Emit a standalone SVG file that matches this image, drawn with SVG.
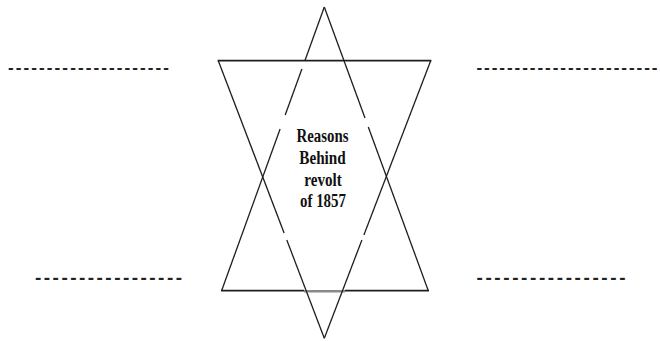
<svg xmlns="http://www.w3.org/2000/svg" width="660" height="341" viewBox="0 0 660 341">
  <style>
    .edge { stroke: #1e1e1e; stroke-width: 1.3; fill: none; stroke-linecap: butt; }
    .bar { stroke: #1e1e1e; stroke-width: 1.7; fill: none; }
    .blank { font-family: "Liberation Sans", Arial, sans-serif; font-weight: bold; fill: #222; }
    .label { font-family: "Liberation Serif", "Times New Roman", serif; font-weight: bold; font-size: 18px; fill: #111; text-anchor: middle; }
  </style>
  <rect width="660" height="341" fill="#ffffff"/>
  <g id="star">
    <!-- upward triangle -->
    <line class="edge" x1="324.3" y1="7" x2="304.8" y2="61"/>
    <line class="edge" x1="301.9" y1="69" x2="285.2" y2="115"/>
    <line class="edge" x1="280.1" y1="129" x2="221.6" y2="290.7"/>
    <line class="edge" x1="324.3" y1="7" x2="365.0" y2="118"/>
    <line class="edge" x1="368.3" y1="127" x2="428.3" y2="290.7"/>
    <line class="bar" x1="221" y1="290.7" x2="304" y2="290.7"/>
    <line x1="304" y1="291.2" x2="345" y2="291.2" stroke="#8a8a8a" stroke-width="2.4"/>
    <line class="bar" x1="345" y1="290.7" x2="429" y2="290.7"/>
    <!-- downward triangle -->
    <line class="bar" x1="217.6" y1="60.7" x2="431.4" y2="60.7"/>
    <line class="edge" x1="218.3" y1="60.7" x2="284.1" y2="233"/>
    <line class="edge" x1="286.8" y1="240" x2="324.3" y2="338.3"/>
    <line class="edge" x1="430.7" y1="60.7" x2="363.9" y2="235"/>
    <line class="edge" x1="361.9" y1="240" x2="324.3" y2="338.3"/>
  </g>
  <g id="center-label">
    <text class="label" x="322.5" y="141.7" textLength="52" lengthAdjust="spacingAndGlyphs">Reasons</text>
    <text class="label" x="322.5" y="164" textLength="46.5" lengthAdjust="spacingAndGlyphs">Behind</text>
    <text class="label" x="323" y="185.5" textLength="37.5" lengthAdjust="spacingAndGlyphs">revolt</text>
    <text class="label" x="323" y="206.5" textLength="46" lengthAdjust="spacingAndGlyphs">of 1857</text>
  </g>
  <g id="blank-top-left">
    <text class="blank" x="8" y="72.5" font-size="17" textLength="161">---------------------</text>
  </g>
  <g id="blank-top-right">
    <text class="blank" x="476.5" y="72.5" font-size="17" textLength="181">------------------------</text>
  </g>
  <g id="blank-bottom-left">
    <text class="blank" x="35" y="283.5" font-size="19" textLength="147">-----------------</text>
  </g>
  <g id="blank-bottom-right">
    <text class="blank" x="476.5" y="283.5" font-size="19" textLength="149">-----------------</text>
  </g>
  <g id="connectors"></g>
</svg>
